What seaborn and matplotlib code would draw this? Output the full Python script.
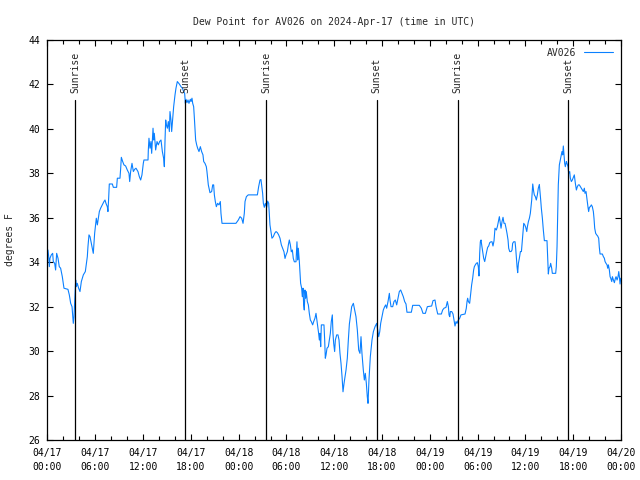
import pandas as pd
import seaborn as sns
import matplotlib
matplotlib.use("Agg")
import matplotlib.pyplot as plt
import matplotlib.dates as mdates

# hours since 2024-04-17 00:00 UTC and dew point (deg F)
hours_apr17 = [0.06, 0.15, 0.23, 0.31, 0.48, 0.65, 0.73, 0.90, 1.02, 1.15, 1.32, 1.48, 1.65, 1.86,
               2.07, 2.57, 2.74, 2.91, 3.08, 3.16, 3.24, 3.33, 3.41, 3.54, 3.62, 3.74, 3.91, 4.08,
               4.25, 4.5, 4.75, 4.83, 5.0, 5.08, 5.21, 5.34, 5.5, 5.67, 5.75, 5.84, 5.92, 6.05,
               6.13, 6.26, 6.38, 6.51, 6.67, 6.88, 7.09, 7.22, 7.34, 7.51, 7.59, 7.68, 7.76, 8.14,
               8.27, 8.68, 8.77, 9.1, 9.19, 9.27, 9.44, 9.6, 9.81, 10.02, 10.23, 10.32, 10.44,
               10.61, 10.78, 10.94, 11.11, 11.36, 11.53, 11.7, 11.86, 12.03, 12.11, 12.62, 12.66,
               12.74, 12.87, 12.99, 13.08, 13.25, 13.33, 13.41, 13.58, 13.75, 13.91, 14.08, 14.25,
               14.42, 14.58, 14.67, 14.75, 14.84, 14.92, 15.05, 15.17, 15.3, 15.38, 15.5, 15.59,
               15.67, 15.84, 16.01, 16.13, 16.3, 16.55, 16.76, 16.93, 17.1, 17.22, 17.31, 17.39,
               17.51, 17.64, 17.76, 17.93, 18.02, 18.14, 18.23, 18.35, 18.43, 18.52, 18.6, 18.73,
               18.85, 19.02, 19.19, 19.35, 19.52, 19.61, 19.77, 19.94, 20.02, 20.11, 20.19, 20.4,
               20.61, 20.74, 20.86, 20.95, 21.07, 21.2, 21.36, 21.53, 21.7, 21.78, 21.91, 22.49,
               23.08, 23.66, 23.96]
dew_apr17 = [34.55, 34.25, 33.8, 34.18, 34.33, 34.4, 34.03, 33.95, 33.65, 34.4, 34.18, 33.8, 33.73, 33.35,
             32.83, 32.78, 32.53, 32.15, 32.0, 31.63, 31.25, 31.55, 32.15, 33.2, 32.9, 33.05, 32.83, 32.68,
             33.13, 33.43, 33.58, 33.8, 34.25, 34.7, 35.23, 35.15, 34.85, 34.55, 34.4, 34.85, 35.3, 35.75,
             35.98, 35.68, 35.98, 36.28, 36.43, 36.58, 36.73, 36.8, 36.65, 36.5, 36.28, 36.88, 37.52, 37.52,
             37.37, 37.37, 37.78, 37.78, 38.23, 38.72, 38.53, 38.38, 38.33, 38.15, 38.0, 37.63, 38.08,
             38.45, 38.08, 38.18, 38.23, 38.08, 37.85, 37.7, 37.93, 38.45, 38.6, 38.6, 39.05,
             39.58, 39.13, 39.43, 38.9, 40.03, 39.5, 39.8, 39.05, 39.43, 39.28, 39.43, 39.5,
             38.98, 38.68, 38.3, 39.43, 40.4, 40.18, 40.03, 40.33, 39.88, 40.78, 40.4, 39.88,
             40.25, 41.0, 41.53, 41.83, 42.13, 42.02, 41.9, 41.83, 41.68, 41.6, 41.15, 41.33,
             41.18, 41.3, 41.15, 41.33, 41.23, 41.38, 41.15, 41.0, 40.55, 39.95, 39.5, 39.28,
             39.13, 38.98, 39.2, 38.98, 38.83, 38.53, 38.45, 38.3, 38.08, 37.78, 37.48, 37.13,
             37.18, 37.48, 37.48, 37.03, 36.73, 36.5, 36.65, 36.58, 36.73, 36.2, 35.75, 35.75,
             35.75, 35.75, 35.9]

hours_apr18 = [24.17, 24.38, 24.55, 24.71, 24.8, 24.97, 25.2, 26.35, 26.51, 26.68, 26.8, 26.89, 27.01,
               27.1, 27.22, 27.35, 27.52, 27.64, 27.77, 27.85, 27.93, 28.06, 28.18, 28.35, 28.52,
               28.69, 28.86, 29.02, 29.19, 29.36, 29.52, 29.69, 29.82, 29.94, 30.11, 30.24, 30.36,
               30.49, 30.61, 30.74, 30.86, 30.99, 31.2, 31.32, 31.41, 31.49, 31.62, 31.7, 31.78,
               31.91, 31.99, 32.08, 32.16, 32.24, 32.33, 32.41, 32.49, 32.62, 32.75, 32.87, 33.0,
               33.12, 33.29, 33.42, 33.58, 33.71, 33.79, 33.92, 34.04, 34.13, 34.21, 34.3, 34.38,
               34.71, 34.8, 34.88, 34.97, 35.09, 35.26, 35.38, 35.51, 35.63, 35.76, 35.84, 35.93,
               36.05, 36.14, 36.31, 36.47, 36.6, 36.72, 36.85, 36.98, 37.1, 37.23, 37.35, 37.48,
               37.64, 37.77, 37.9, 38.19, 38.4, 38.73, 38.9, 39.07, 39.23, 39.36, 39.48, 39.65,
               39.78, 39.9, 40.03, 40.15, 40.24, 40.36, 40.53, 40.74, 40.91, 41.12, 41.33, 41.45,
               41.58, 41.71, 41.83, 42.0, 42.16, 42.33, 42.46, 42.58, 42.75, 42.92, 43.0, 43.13,
               43.34, 43.5, 43.67, 43.84, 44.0, 44.17, 44.34, 44.51, 44.67, 44.84, 45.01, 45.13,
               45.68, 45.85, 46.68, 46.93, 47.14, 47.44, 47.69]
dew_apr18 = [36.05, 35.98, 35.75, 36.2, 36.73, 36.95, 37.03, 37.03, 37.4, 37.7, 37.72, 37.47, 37.1,
             36.65, 36.47, 36.65, 36.47, 36.75, 36.65, 36.2, 35.68, 35.38, 35.08, 35.15, 35.3,
             35.38, 35.33, 35.23, 35.08, 34.78, 34.63, 34.47, 34.17, 34.32, 34.47, 34.78, 35.0,
             34.78, 34.47, 34.55, 34.17, 34.02, 34.02, 34.92, 34.1, 34.63, 34.02, 33.5, 33.05,
             32.83, 32.45, 32.83, 32.08, 31.85, 32.75, 32.38, 32.68, 32.23, 32.08, 31.7, 31.4,
             31.33, 31.18, 31.33, 31.48, 31.7, 31.48, 31.1, 30.8, 30.5, 30.8, 30.2, 31.18,
             31.18, 30.5, 29.68, 29.83, 30.13, 30.2, 30.5, 30.8, 31.33, 31.63, 30.8, 30.35,
             29.98, 30.5, 30.73, 30.73, 30.5, 29.9, 29.45, 28.85, 28.17, 28.55, 28.85, 29.15,
             29.68, 30.5, 31.22, 32.0, 32.15, 31.55, 30.95, 30.05, 29.9, 30.65, 29.9, 29.15,
             28.7, 29.0, 28.55, 27.95, 27.65, 28.7, 29.75, 30.5, 30.87, 31.1, 31.25, 30.95,
             30.65, 30.87, 31.25, 31.55, 31.85, 32.0, 32.08, 31.93, 32.23, 32.6, 32.3, 32.0,
             32.0, 32.23, 32.3, 32.08, 32.38, 32.68, 32.75, 32.6, 32.45, 32.23, 32.12, 31.75,
             31.75, 32.06, 32.06, 31.93, 31.7, 31.7, 32.0]

hours_apr19 = [48.23, 48.4, 48.65, 48.78, 48.99, 49.45, 49.61, 49.78, 50.03, 50.2, 50.33, 50.41, 50.5,
               50.58, 50.75, 50.91, 51.0, 51.08, 51.16, 51.29, 51.41, 51.58, 51.75, 51.91, 52.42,
               52.58, 52.67, 52.75, 52.84, 53.0, 53.13, 53.25, 53.38, 53.5, 53.59, 53.71, 53.84,
               53.97, 54.09, 54.17, 54.26, 54.34, 54.43, 54.51, 54.64, 54.76, 54.89, 55.01, 55.14,
               55.26, 55.39, 55.52, 55.68, 55.81, 55.93, 56.06, 56.18, 56.35, 56.48, 56.6, 56.73,
               56.85, 56.94, 57.06, 57.19, 57.31, 57.44, 57.57, 57.69, 57.82, 57.9, 58.03, 58.2,
               58.32, 58.4, 58.53, 58.7, 58.78, 58.87, 58.95, 59.03, 59.12, 59.24, 59.37, 59.5,
               59.62, 59.71, 59.79, 59.92, 60.04, 60.17, 60.25, 60.37, 60.5, 60.62, 60.71, 60.79,
               60.87, 60.92, 61.04, 61.12, 61.25, 61.37, 61.5, 61.62, 61.75, 61.83, 61.92, 62.0,
               62.13, 62.25, 62.38, 62.71, 62.8, 62.88, 62.96, 63.09, 63.17, 63.3, 63.38, 63.8,
               63.88, 63.97, 64.05, 64.13, 64.26, 64.38, 64.47, 64.59, 64.68, 64.76, 64.85, 64.93,
               65.01, 65.14, 65.22, 65.35, 65.43, 65.56, 65.64, 65.77, 65.89, 66.02, 66.14, 66.27,
               66.4, 66.52, 66.65, 66.77, 66.9, 67.02, 67.15, 67.27, 67.4, 67.48, 67.61, 67.69,
               67.78, 67.86, 67.94, 68.03, 68.15, 68.28, 68.4, 68.53, 68.61, 68.7, 68.82, 68.95,
               69.07, 69.2, 69.28, 69.37, 69.66, 69.79, 69.91, 70.0, 70.12, 70.25, 70.33, 70.42,
               70.54, 70.63, 70.71, 70.84, 70.92, 71.05, 71.17, 71.3, 71.38, 71.51, 71.63, 71.72,
               71.8, 71.88, 71.97]
dew_apr19 = [32.03, 32.27, 32.3, 32.0, 31.67, 31.67, 31.85, 31.93, 31.97, 32.23, 32.0, 31.63, 31.55,
             31.78, 31.78, 31.67, 31.48, 31.33, 31.13, 31.33, 31.25, 31.4, 31.48, 31.63, 31.67,
             31.93, 32.23, 32.38, 32.23, 32.15, 32.6, 32.98, 33.28, 33.65, 33.8, 33.88, 33.95,
             33.98, 33.8, 33.38, 34.4, 34.92, 35.0, 34.78, 34.48, 34.18, 34.03, 34.25, 34.48,
             34.67, 34.73, 34.88, 34.92, 34.92, 34.73, 34.97, 35.53, 35.45, 35.6, 35.82, 36.05,
             35.75, 35.53, 35.82, 36.02, 35.75, 35.75, 35.53, 35.3, 35.0, 34.63, 34.48, 34.48,
             34.55, 34.85, 34.92, 34.92, 34.63, 34.18, 33.8, 33.53, 33.95, 34.18, 34.48, 34.48,
             35.0, 35.38, 35.75, 35.68, 35.57, 35.38, 35.6, 35.82, 35.98, 36.2, 36.5, 36.8,
             37.25, 37.52, 37.18, 37.03, 36.95, 36.8, 37.03, 37.33, 37.5, 37.18, 36.8, 36.43,
             35.98, 35.45, 34.97, 34.97, 34.18, 33.47, 33.73, 33.8, 33.95, 33.73, 33.5, 33.5,
             33.8, 34.7, 36.05, 37.48, 38.38, 38.6, 38.78, 38.98, 38.83, 39.23, 38.83, 38.45,
             38.3, 38.53, 38.45, 38.3, 38.0, 38.08, 37.78, 37.63, 37.7, 37.82, 37.93, 37.55,
             37.25, 37.4, 37.48, 37.48, 37.4, 37.33, 37.25, 37.18, 37.33, 37.1, 37.18, 36.95,
             36.73, 36.47, 36.28, 36.47, 36.5, 36.58, 36.5, 36.28, 35.98, 35.53, 35.3, 35.23,
             35.18, 35.08, 34.67, 34.37, 34.37, 34.25, 34.18, 34.03, 33.95, 33.88, 33.73, 33.88,
             33.65, 33.35, 33.28, 33.13, 33.35, 33.2, 33.08, 33.28, 33.35, 33.2, 33.35, 33.58,
             33.35, 33.02, 33.28]

sunrise_times = ["2024-04-17 03:30", "2024-04-18 03:29", "2024-04-19 03:30"]
sunset_times = ["2024-04-17 17:19", "2024-04-18 17:21", "2024-04-19 17:23"]

start = pd.Timestamp("2024-04-17 00:00")
hours = hours_apr17 + hours_apr18 + hours_apr19
dew = dew_apr17 + dew_apr18 + dew_apr19
df = pd.DataFrame({"time": start + pd.to_timedelta(hours, unit="h"), "dew": dew})

sns.set_style("ticks")
plt.rcParams["font.family"] = ["DejaVu Sans Mono"]
plt.rcParams["font.size"] = 7

fig = plt.figure(figsize=(6.4, 4.8), dpi=100)
ax = fig.add_axes([0.0742, 0.0833, 0.8961, 0.8334])

sns.lineplot(data=df, x="time", y="dew", ax=ax, color="#0a80ff", linewidth=0.8, label="AV026")

for t, name in [(s, "Sunrise") for s in sunrise_times] + [(s, "Sunset") for s in sunset_times]:
    ts = pd.Timestamp(t)
    ax.plot([ts, ts], [26, 41.3], color="black", linewidth=0.9)
    ax.text(ts, 41.6, name, rotation=90, ha="center", va="bottom", fontsize=7)

ax.set_xlim(pd.Timestamp("2024-04-17 00:00"), pd.Timestamp("2024-04-20 00:00"))
ax.set_ylim(26, 44)
ax.set_yticks(range(26, 45, 2))
ax.xaxis.set_major_locator(mdates.HourLocator(byhour=[0, 6, 12, 18]))
ax.xaxis.set_minor_locator(mdates.HourLocator(interval=2))
ax.xaxis.set_major_formatter(mdates.DateFormatter("%m/%d\n%H:%M"))

ax.tick_params(which="both", direction="in", top=True, right=True, width=0.8, colors="black")
ax.tick_params(which="major", length=4)
ax.tick_params(which="minor", length=3)
ax.tick_params(axis="x", which="major", pad=6)
ax.tick_params(axis="y", pad=5)
for lbl in ax.get_xticklabels():
    lbl.set_linespacing(1.5)
for s in ax.spines.values():
    s.set_linewidth(0.9)
    s.set_color("black")

ax.set_xlabel("")
ax.set_ylabel("degrees F", labelpad=10)
ax.set_title("Dew Point for AV026 on 2024-Apr-17 (time in UTC)", pad=11, fontsize=7)
ax.legend(loc="upper right", frameon=False, markerfirst=False, handlelength=3.0,
          borderaxespad=0.4, fontsize=7)

fig.savefig("out.png", dpi=100)
